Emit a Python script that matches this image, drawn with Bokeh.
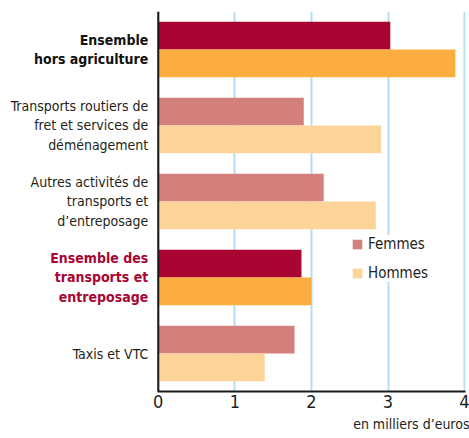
from bokeh.plotting import figure
from bokeh.models import (ColumnDataSource, Range1d, Span, Legend, LegendItem,
                          Title, FixedTicker)
from bokeh.core.properties import value
from bokeh.embed import file_html
from bokeh.resources import INLINE

categories = [
    "Ensemble\nhors agriculture",
    "Transports routiers de\nfret et services de\ndéménagement",
    "Autres activités de\ntransports et\nd’entreposage",
    "Ensemble des\ntransports et\nentreposage",
    "Taxis et VTC",
]
femmes = [3.03, 1.90, 2.16, 1.87, 1.78]
hommes = [3.88, 2.91, 2.84, 2.00, 1.39]
highlight = ["total", "normal", "normal", "sector", "normal"]
x_ticks = [0, 1, 2, 3, 4]

FONT = "'Liberation Sans Narrow', 'DejaVu Sans Condensed', 'Roboto Condensed', Roboto, sans-serif"
dark_f, dark_h = "#A80533", "#FBAE3F"
light_f, light_h = "#D3807C", "#FDD498"

n = len(categories)
centers = [n - 0.5 - i for i in range(n)]
off = 0.182
bh = 0.365

src = ColumnDataSource(dict(
    yf=[c + off for c in centers],
    yh=[c - off for c in centers],
    f=femmes, h=hommes,
    cf=[dark_f if k != "normal" else light_f for k in highlight],
    ch=[dark_h if k != "normal" else light_h for k in highlight],
))

lab = ColumnDataSource(dict(
    y=centers, text=categories,
    color=["#A80533" if k == "sector" else ("#111111" if k == "total" else "#231F20") for k in highlight],
    style=["bold" if k != "normal" else "normal" for k in highlight],
))

p = figure(width=469, height=438, output_backend="svg", toolbar_location=None,
           x_range=Range1d(-2.06, 4.012), y_range=Range1d(0, n),
           min_border_left=0, min_border_top=11, min_border_right=4,
           min_border_bottom=0)
p.frame_width = 465
p.frame_height = 380
p.outline_line_color = None
p.background_fill_color = "white"

p.ygrid.visible = False
p.xgrid.ticker = FixedTicker(ticks=x_ticks)
p.xgrid.grid_line_color = "#B5DCF3"
p.xgrid.grid_line_width = 2

rf = p.hbar(y="yf", right="f", left=0, height=bh, fill_color="cf", line_color=None, source=src)
rh = p.hbar(y="yh", right="h", left=0, height=bh, fill_color="ch", line_color=None, source=src)

p.yaxis.visible = False
p.add_layout(Span(location=0, dimension="height", line_color="#1a1a1a", line_width=2))

xa = p.xaxis[0]
xa.ticker = FixedTicker(ticks=x_ticks)
xa.bounds = (-0.007, 4.012)
xa.axis_line_color = "#1a1a1a"
xa.axis_line_width = 2
xa.major_tick_line_color = None
xa.minor_tick_line_color = None
xa.major_tick_out = 0
xa.major_tick_in = 0
xa.major_label_text_font = FONT
xa.major_label_text_font_size = "18px"
xa.major_label_text_color = "#231F20"
xa.major_label_standoff = 3

p.text(x=-0.13, y="y", text="text", source=lab, text_align="right", text_baseline="middle",
       text_font=value(FONT), text_font_size="14px", text_font_style="style",
       text_color="color", text_line_height=1.2)

legend = Legend(items=[LegendItem(label="Femmes", renderers=[rf], index=1),
                       LegendItem(label="Hommes", renderers=[rh], index=1)],
                location=(351, 109), orientation="vertical",
                glyph_width=12, glyph_height=12, label_height=12, spacing=11,
                padding=5, margin=0, label_standoff=5,
                label_text_font=FONT, label_text_font_size="15px",
                label_text_color="#231F20",
                background_fill_color="white", background_fill_alpha=1,
                border_line_color=None)
p.add_layout(legend)

p.add_layout(Title(text="en milliers d’euros", align="right", text_font=FONT,
                   text_font_size="14px", text_font_style="normal",
                   text_color="#231F20", standoff=7, offset=-4), "below")

open("out.html", "w").write(file_html(p, INLINE))
